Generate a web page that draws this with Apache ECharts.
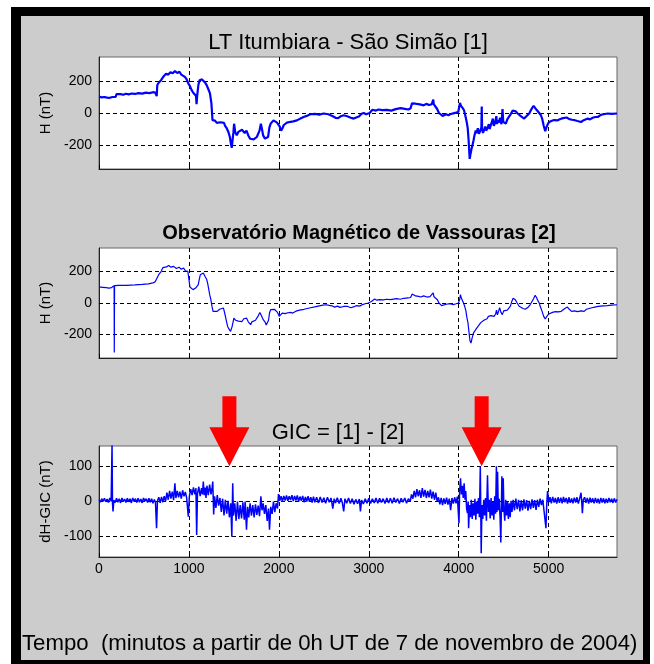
<!DOCTYPE html>
<html>
<head>
<meta charset="utf-8">
<script src="https://cdn.jsdelivr.net/npm/echarts@6/dist/echarts.min.js"></script>
<style>
  body { margin: 0; background: #fff; }
  #frame { position: absolute; left: 11px; top: 7px; width: 639px; height: 657px; background: #000; }
  #panel { position: absolute; left: 21px; top: 16px; width: 622px; height: 644px; background: #cccccc; }
  #chart { position: absolute; left: 0; top: 0; width: 654px; height: 664px; }
</style>
</head>
<body>
<div id="frame"></div>
<div id="panel"></div>
<div id="chart"></div>
<script>
// tempo em minutos a partir de 0h UT de 7/11/2004
const xTicks = [0, 1000, 2000, 3000, 4000, 5000];
const hTicks = [-200, 0, 200];
const gicTicks = [-100, 0, 100];
const arrowTimes = [1450, 4255];

// [1] LT Itumbiara - São Simão, H (nT)
const itumbiaraH = [[0,102],[30,98],[60,100],[90,96],[120,95],[150,100],[170,92],[185,100],[195,118],[215,112],[240,118],[270,114],[300,120],[330,116],[360,122],[400,119],[440,124],[480,121],[520,127],[560,124],[600,130],[625,128],[638,132],[642,105],[648,175],[665,190],[690,205],[720,230],[745,245],[770,240],[795,255],[820,248],[845,262],[855,273],[870,250],[895,258],[915,240],[935,245],[955,226],[975,210],[993,185],[1010,170],[1030,143],[1050,125],[1065,115],[1078,108],[1085,55],[1092,110],[1105,175],[1118,205],[1130,195],[1145,210],[1160,198],[1180,190],[1197,174],[1215,150],[1234,122],[1250,60],[1262,-45],[1275,-55],[1290,-48],[1310,-62],[1330,-50],[1350,-58],[1370,-52],[1390,-62],[1402,-80],[1420,-95],[1439,-119],[1455,-150],[1468,-195],[1476,-218],[1485,-170],[1495,-120],[1502,-67],[1515,-120],[1532,-140],[1550,-118],[1570,-130],[1590,-105],[1606,-98],[1620,-125],[1640,-110],[1660,-140],[1680,-161],[1700,-150],[1720,-165],[1736,-161],[1755,-150],[1773,-140],[1785,-110],[1800,-67],[1812,-100],[1825,-140],[1845,-160],[1866,-172],[1880,-150],[1895,-90],[1910,-65],[1925,-75],[1940,-46],[1960,-50],[1980,-60],[1996,-56],[2010,-85],[2025,-110],[2040,-95],[2055,-75],[2070,-67],[2090,-60],[2110,-62],[2130,-55],[2160,-52],[2201,-46],[2240,-35],[2275,-25],[2310,-18],[2349,-8],[2400,-5],[2450,-10],[2498,-3],[2550,-8],[2600,-20],[2630,-30],[2660,-32],[2690,-20],[2721,-14],[2760,-20],[2800,-30],[2832,-35],[2860,-28],[2890,-22],[2920,-5],[2944,0],[2970,-8],[2990,-14],[3010,0],[3040,20],[3060,25],[3080,15],[3110,22],[3150,18],[3200,20],[3250,15],[3300,24],[3353,30],[3400,26],[3440,22],[3465,30],[3480,60],[3495,70],[3520,58],[3550,55],[3580,52],[3610,48],[3640,57],[3670,50],[3700,55],[3712,60],[3717,84],[3722,55],[3743,55],[3760,25],[3780,0],[3800,-10],[3820,-18],[3836,-21],[3860,-8],[3885,-14],[3910,-6],[3940,-2],[3970,2],[3995,6],[4005,10],[4014,63],[4025,45],[4045,30],[4059,17],[4075,-20],[4090,-60],[4100,-95],[4110,-170],[4118,-250],[4122,-287],[4130,-260],[4140,-230],[4152,-203],[4165,-170],[4175,-140],[4189,-109],[4200,-125],[4212,-95],[4225,-130],[4240,-110],[4252,-90],[4256,40],[4260,-100],[4270,-125],[4282,-119],[4295,-85],[4305,-110],[4320,-95],[4335,-70],[4345,-100],[4356,-77],[4370,-85],[4380,-35],[4390,-80],[4405,-60],[4418,-20],[4425,-70],[4431,-46],[4445,-60],[4460,-30],[4475,-70],[4487,24],[4495,-55],[4510,-60],[4524,-67],[4540,-40],[4560,-30],[4580,-5],[4600,15],[4617,24],[4635,10],[4655,-3],[4672,-3],[4690,-20],[4710,-28],[4728,-35],[4750,-22],[4770,-10],[4784,-3],[4800,15],[4815,30],[4833,44],[4850,35],[4865,20],[4877,17],[4895,0],[4914,-14],[4930,-40],[4945,-80],[4962,-113],[4975,-90],[4990,-70],[5006,-56],[5030,-50],[5060,-44],[5100,-46],[5130,-38],[5160,-32],[5174,-35],[5200,-28],[5230,-38],[5260,-42],[5290,-45],[5320,-50],[5360,-56],[5390,-45],[5410,-38],[5435,-35],[5460,-40],[5490,-30],[5520,-25],[5546,-25],[5580,-12],[5610,-8],[5658,-3],[5700,-5],[5760,-3]];

// [2] Observatório Magnético de Vassouras, H (nT)
const vassourasH = [[0,102],[40,100],[80,98],[110,95],[140,98],[160,100],[168,110],[170,-315],[173,110],[180,115],[220,112],[300,112],[400,115],[480,118],[550,122],[600,128],[625,135],[640,153],[664,180],[690,200],[710,225],[728,236],[750,230],[775,238],[800,228],[830,233],[860,220],[890,228],[915,215],[941,223],[960,205],[988,201],[1000,150],[1011,102],[1030,95],[1045,85],[1058,85],[1075,95],[1090,90],[1104,117],[1115,150],[1127,180],[1145,185],[1160,191],[1178,170],[1198,149],[1210,120],[1221,85],[1232,50],[1244,21],[1256,-20],[1268,-53],[1290,-50],[1314,-53],[1340,-40],[1360,-45],[1384,-32],[1400,-70],[1415,-110],[1430,-149],[1445,-165],[1463,-181],[1480,-150],[1500,-96],[1520,-110],[1535,-100],[1550,-115],[1570,-106],[1590,-118],[1610,-100],[1625,-110],[1640,-96],[1660,-120],[1686,-138],[1700,-120],[1720,-125],[1740,-110],[1756,-106],[1772,-80],[1789,-60],[1805,-80],[1826,-106],[1845,-120],[1860,-140],[1873,-138],[1885,-110],[1897,-60],[1910,-42],[1930,-45],[1950,-40],[1966,-38],[1985,-60],[2004,-85],[2020,-75],[2037,-64],[2070,-68],[2100,-62],[2130,-60],[2154,-64],[2190,-52],[2230,-45],[2280,-40],[2340,-32],[2400,-25],[2450,-18],[2490,-14],[2527,-11],[2560,-15],[2590,-18],[2620,-26],[2650,-20],[2680,-28],[2720,-22],[2760,-21],[2800,-30],[2830,-25],[2860,-17],[2900,-20],[2930,-10],[2960,-5],[2994,0],[3010,-8],[3030,10],[3050,12],[3064,25],[3090,18],[3120,22],[3160,20],[3200,24],[3240,22],[3274,25],[3310,28],[3350,24],[3390,30],[3437,32],[3465,35],[3483,57],[3500,50],[3520,45],[3553,42],[3580,38],[3610,45],[3646,38],[3680,40],[3700,45],[3716,64],[3725,40],[3745,30],[3763,21],[3780,0],[3795,-10],[3810,-17],[3830,-15],[3860,-8],[3903,-4],[3940,-10],[3970,-5],[3996,0],[4010,20],[4019,53],[4030,30],[4050,5],[4066,-21],[4080,-50],[4090,-90],[4103,-127],[4115,-190],[4125,-240],[4136,-255],[4150,-220],[4165,-190],[4183,-181],[4200,-160],[4215,-150],[4229,-138],[4245,-125],[4260,-130],[4280,-110],[4299,-106],[4315,-100],[4330,-85],[4345,-95],[4360,-80],[4375,-90],[4393,-85],[4410,-70],[4420,-45],[4430,-75],[4445,-50],[4455,-30],[4462,-32],[4470,-60],[4485,-74],[4500,-50],[4520,-60],[4540,-45],[4556,-42],[4575,-20],[4590,10],[4605,30],[4616,42],[4630,20],[4650,0],[4672,-21],[4690,-30],[4715,-35],[4740,-40],[4756,-42],[4775,-25],[4795,-10],[4815,10],[4835,30],[4850,49],[4865,35],[4880,15],[4895,0],[4906,-21],[4925,-50],[4945,-85],[4962,-102],[4980,-85],[5000,-70],[5022,-64],[5050,-58],[5080,-55],[5110,-56],[5139,-53],[5160,-45],[5180,-35],[5209,-26],[5230,-40],[5255,-53],[5290,-50],[5320,-55],[5360,-50],[5395,-53],[5420,-40],[5450,-35],[5480,-30],[5512,-26],[5550,-22],[5580,-20],[5610,-18],[5652,-17],[5700,-14],[5760,-11]];

// GIC = [1] - [2], dH-GIC (nT)
const gicDH = [[0,5],[15,-2],[30,8],[45,0],[60,9],[75,-1],[90,7],[105,-3],[120,10],[135,1],[145,160],[150,-5],[156,-28],[165,4],[180,-3],[195,9],[210,-2],[225,8],[240,-4],[255,10],[270,0],[285,7],[300,-3],[315,9],[330,-1],[345,8],[360,-4],[375,10],[390,0],[405,8],[420,-3],[435,9],[450,-2],[465,7],[480,-4],[495,10],[510,1],[525,8],[540,-3],[555,9],[570,-2],[585,8],[600,-5],[615,6],[628,-3],[640,-76],[650,2],[665,12],[680,-4],[695,13],[710,-2],[725,15],[740,0],[755,25],[770,5],[785,30],[800,8],[815,28],[830,4],[844,52],[855,10],[870,30],[885,12],[900,28],[915,8],[930,32],[945,15],[960,27],[975,10],[993,-43],[1005,15],[1020,35],[1035,18],[1050,40],[1065,20],[1078,38],[1086,-95],[1095,22],[1110,42],[1125,15],[1140,38],[1150,20],[1160,57],[1170,18],[1180,40],[1190,10],[1200,45],[1215,18],[1230,48],[1245,20],[1258,40],[1265,57],[1275,-37],[1285,15],[1300,-18],[1315,18],[1330,-12],[1345,10],[1360,-30],[1375,8],[1390,-40],[1405,5],[1420,-35],[1435,2],[1450,-45],[1465,-5],[1477,-100],[1482,-20],[1487,52],[1495,-40],[1510,-5],[1525,-55],[1540,0],[1555,-50],[1570,-10],[1585,-48],[1600,-2],[1615,-52],[1625,0],[1640,-80],[1652,-15],[1665,-45],[1680,-5],[1695,-40],[1710,-10],[1725,-45],[1740,-8],[1755,-38],[1770,-12],[1785,-42],[1800,15],[1812,-25],[1825,-5],[1840,-35],[1855,-10],[1870,-55],[1885,-20],[1896,-80],[1910,-15],[1925,-35],[1940,0],[1955,-30],[1970,-5],[1985,-20],[1996,21],[2010,2],[2025,15],[2040,0],[2055,16],[2070,3],[2085,17],[2100,2],[2115,15],[2130,4],[2145,18],[2160,1],[2175,16],[2190,3],[2205,17],[2220,0],[2235,14],[2250,2],[2265,16],[2280,-2],[2295,13],[2310,0],[2325,15],[2340,-1],[2355,12],[2370,-3],[2385,14],[2400,-2],[2420,12],[2440,-4],[2460,13],[2480,-3],[2500,11],[2520,-5],[2540,12],[2560,-2],[2580,10],[2600,-20],[2615,8],[2630,-4],[2650,11],[2670,-6],[2690,9],[2705,-3],[2721,-28],[2735,8],[2755,-5],[2775,10],[2795,-6],[2815,8],[2835,-8],[2855,6],[2875,-6],[2895,7],[2907,-28],[2920,4],[2940,-7],[2960,8],[2980,-5],[3000,9],[3020,-6],[3040,8],[3060,-4],[3080,10],[3100,-5],[3120,9],[3140,-3],[3160,8],[3180,-6],[3200,10],[3220,-4],[3240,9],[3260,-5],[3280,11],[3300,-3],[3320,8],[3340,-6],[3360,9],[3380,-2],[3400,10],[3420,-5],[3440,8],[3460,0],[3475,20],[3490,8],[3505,30],[3520,12],[3535,35],[3550,15],[3565,32],[3580,10],[3595,38],[3610,14],[3625,33],[3640,10],[3655,30],[3670,12],[3685,34],[3700,8],[3715,28],[3730,5],[3745,25],[3760,0],[3775,12],[3790,-8],[3805,10],[3820,-10],[3835,9],[3850,-7],[3865,11],[3880,-9],[3895,8],[3910,-25],[3925,10],[3940,-6],[3955,12],[3970,-5],[3985,14],[4003,-62],[4010,30],[4020,66],[4030,20],[4040,45],[4050,10],[4060,52],[4070,5],[4078,30],[4088,-20],[4097,-33],[4105,0],[4110,-76],[4120,-10],[4130,-45],[4140,5],[4150,-50],[4160,-5],[4170,-40],[4180,8],[4190,-52],[4200,0],[4210,-35],[4220,10],[4230,-45],[4240,100],[4245,-20],[4250,-147],[4258,-10],[4268,-50],[4278,5],[4288,-40],[4298,10],[4308,-55],[4320,75],[4330,-30],[4340,5],[4350,-48],[4360,10],[4370,-40],[4380,0],[4390,-52],[4400,15],[4410,-35],[4419,100],[4425,-30],[4432,85],[4440,-25],[4450,8],[4460,-45],[4468,-117],[4475,-10],[4480,72],[4488,-30],[4495,66],[4502,-20],[4512,-55],[4522,5],[4532,-40],[4542,0],[4552,-50],[4562,-5],[4572,-45],[4582,2],[4592,-30],[4605,5],[4620,-25],[4635,8],[4650,-22],[4665,5],[4680,-28],[4695,3],[4710,-25],[4725,6],[4740,-20],[4755,4],[4770,-26],[4785,2],[4800,-22],[4815,6],[4830,-18],[4845,4],[4860,-24],[4875,5],[4890,-15],[4905,8],[4920,-10],[4935,5],[4950,-30],[4970,-76],[4980,0],[4988,30],[5000,-2],[5015,12],[5030,-5],[5045,13],[5060,-3],[5075,10],[5090,-6],[5105,12],[5120,-4],[5135,11],[5150,-5],[5165,13],[5180,-2],[5195,10],[5210,-6],[5225,12],[5240,-4],[5255,9],[5270,-5],[5285,11],[5300,-3],[5315,12],[5330,-6],[5345,9],[5360,25],[5368,-2],[5375,-33],[5385,5],[5400,12],[5415,-4],[5430,10],[5445,-6],[5460,11],[5475,-3],[5490,9],[5505,-5],[5520,10],[5535,-4],[5550,8],[5565,-6],[5580,10],[5595,-3],[5610,9],[5625,-5],[5640,8],[5655,-4],[5670,10],[5685,-2],[5700,8],[5715,-4],[5730,9],[5745,-3],[5760,6]];

const FONT = 'Liberation Sans, Arial, sans-serif';
const chart = echarts.init(document.getElementById('chart'));

const gridLine = { show: true, lineStyle: { color: '#000', type: [4, 3], width: 1 } };
const plain = v => String(v);

function xAxisFor(i, showLabels) {
  return {
    type: 'value', gridIndex: i, min: 0, max: 5760,
    axisLine: { show: true, onZero: false, lineStyle: { color: '#222' } },
    axisTick: { show: true, inside: true, length: 4, customValues: xTicks, lineStyle: { color: '#000' } },
    axisLabel: { show: showLabels, customValues: xTicks, formatter: plain, color: '#000',
      fontFamily: FONT, fontSize: 14, margin: 5 },
    splitLine: gridLine
  };
}
function yAxisFor(i, lim, ticks, name) {
  return {
    type: 'value', gridIndex: i, min: -lim, max: lim, name: name,
    nameLocation: 'middle', nameGap: 40, nameRotate: 90,
    nameTextStyle: { color: '#000', fontFamily: FONT, fontSize: 15 },
    axisLine: { show: true, lineStyle: { color: '#222' } },
    axisTick: { show: true, inside: true, length: 4, customValues: ticks, lineStyle: { color: '#000' } },
    axisLabel: { customValues: ticks, formatter: plain, color: '#000', fontFamily: FONT, fontSize: 14, margin: 7 },
    splitLine: gridLine
  };
}

const grids = [
  { left: 99, top: 57, width: 518, height: 112 },
  { left: 99, top: 248, width: 518, height: 110 },
  { left: 99, top: 446, width: 518, height: 111 }
].map(g => Object.assign(g, { show: true, backgroundColor: '#fff', borderColor: '#666', borderWidth: 1 }));

const titleStyle = (size, weight) => ({ fontFamily: FONT, fontSize: size, fontWeight: weight, color: '#000' });

chart.setOption({
  animation: false,
  title: [
    { text: 'LT Itumbiara - São Simão [1]', left: 348, top: 32, textAlign: 'center', padding: 0,
      textStyle: titleStyle(22, 'normal') },
    { text: 'Observatório Magnético de Vassouras [2]', left: 359, top: 223, textAlign: 'center', padding: 0,
      textStyle: titleStyle(20, 'bold') },
    { text: 'GIC = [1] - [2]', left: 338, top: 422, textAlign: 'center', padding: 0,
      textStyle: titleStyle(22, 'normal') },
    { text: 'Tempo  (minutos a partir de 0h UT de 7 de novembro de 2004)', left: 22, top: 633, padding: 0,
      textStyle: titleStyle(22.2, 'normal') }
  ],
  grid: grids,
  xAxis: [xAxisFor(0, false), xAxisFor(1, false), xAxisFor(2, true)],
  yAxis: [
    yAxisFor(0, 350, hTicks, 'H (nT)'),
    yAxisFor(1, 350, hTicks, 'H (nT)'),
    yAxisFor(2, 158, gicTicks, 'dH-GIC (nT)')
  ],
  series: [
    { type: 'line', xAxisIndex: 0, yAxisIndex: 0, data: itumbiaraH, showSymbol: false,
      lineStyle: { color: '#0000ff', width: 2.2 } },
    { type: 'line', xAxisIndex: 1, yAxisIndex: 1, data: vassourasH, showSymbol: false,
      lineStyle: { color: '#0000ff', width: 1.2 } },
    { type: 'line', xAxisIndex: 2, yAxisIndex: 2, data: gicDH, showSymbol: false,
      lineStyle: { color: '#0000ff', width: 1.5 } }
  ]
});

// setas vermelhas apontando para os picos de GIC
const arrows = arrowTimes.map(t => {
  const p = chart.convertToPixel({ xAxisIndex: 2, yAxisIndex: 2 }, [t, 100]);
  return {
    type: 'polygon', z: 100,
    shape: { points: [[-7, -70], [7, -70], [7, -39], [20, -39], [0, 0], [-20, -39], [-7, -39]]
      .map(q => [p[0] + q[0], p[1] + q[1]]) },
    style: { fill: '#ff0000' }
  };
});
chart.setOption({ graphic: arrows });
</script>
</body>
</html>
